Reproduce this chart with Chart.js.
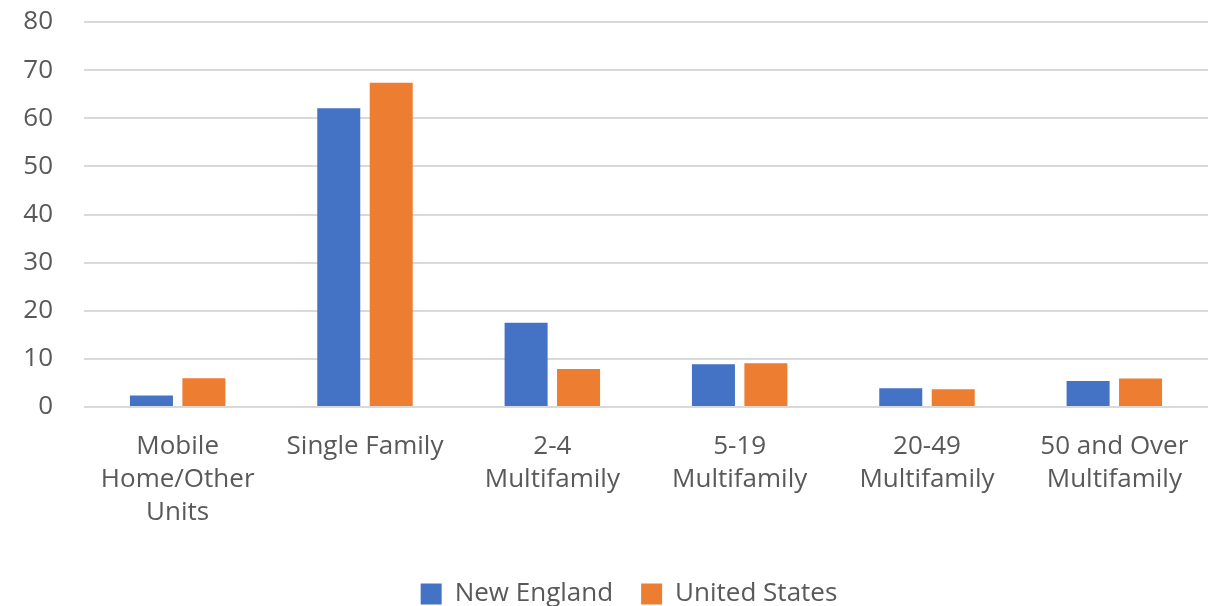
<!DOCTYPE html>
<html>
<head>
<meta charset="utf-8">
<title>Housing units by structure type</title>
<script src="https://cdn.jsdelivr.net/npm/chart.js@4/dist/chart.umd.min.js"></script>
<style>
  body { margin: 0; background: #fff; }
  #wrap { width: 1220px; height: 606px; }
</style>
</head>
<body>
<div id="wrap"><canvas id="chart" width="1220" height="606"></canvas></div>
<script>
const categories = [
  ['Mobile', 'Home/Other', 'Units'],
  'Single Family',
  ['2-4', 'Multifamily'],
  ['5-19', 'Multifamily'],
  ['20-49', 'Multifamily'],
  ['50 and Over', 'Multifamily'],
];
const newEngland = [2.4, 62.1, 17.5, 8.9, 3.9, 5.4];
const unitedStates = [6.0, 67.4, 7.9, 9.1, 3.7, 5.9];
const yTicks = [0, 10, 20, 30, 40, 50, 60, 70, 80];

const textColor = '#595959';
const font = { family: "'Open Sans', sans-serif", size: 26 };

// nudge the legend a little to the right of centre
const legendShift = {
  id: 'legendShift',
  afterLayout(chart) {
    chart.legend.left += 25;
    chart.legend.right += 25;
  }
};

new Chart(document.getElementById('chart'), {
  type: 'bar',
  data: {
    labels: categories,
    datasets: [{
      label: 'New England',
      data: newEngland,
      backgroundColor: '#4472C4',
    }, {
      label: 'United States',
      data: unitedStates,
      backgroundColor: '#ED7D31',
    }]
  },
  plugins: [legendShift],
  options: {
    responsive: false,
    animation: false,
    categoryPercentage: 0.56,
    barPercentage: 0.82,
    layout: {
      padding: { top: 22, right: 12, bottom: -11, left: 0 }
    },
    plugins: {
      tooltip: { enabled: false },
      legend: {
        position: 'bottom',
        labels: {
          color: textColor,
          font: font,
          boxWidth: 21,
          boxHeight: 21,
          padding: 28,
        }
      }
    },
    scales: {
      x: {
        grid: { display: false, drawTicks: false },
        border: { display: false },
        ticks: {
          color: textColor,
          font: { ...font, lineHeight: 1.27 },
          padding: 23,
          maxRotation: 0,
          autoSkip: false,
        },
        afterFit: scale => { scale.height = 146; }
      },
      y: {
        min: 0,
        max: 80,
        afterBuildTicks: scale => { scale.ticks = yTicks.map(v => ({ value: v })); },
        grid: { color: '#D9D9D9', lineWidth: 2, drawTicks: false },
        border: { display: false },
        ticks: {
          color: textColor,
          font: font,
          padding: 31,
        },
        // fixed gutter; no extra room for the half-height end labels
        afterFit: scale => {
          scale.width = 84;
          scale.paddingTop = 0;
          scale.paddingBottom = 0;
        }
      }
    }
  }
});
</script>
</body>
</html>
